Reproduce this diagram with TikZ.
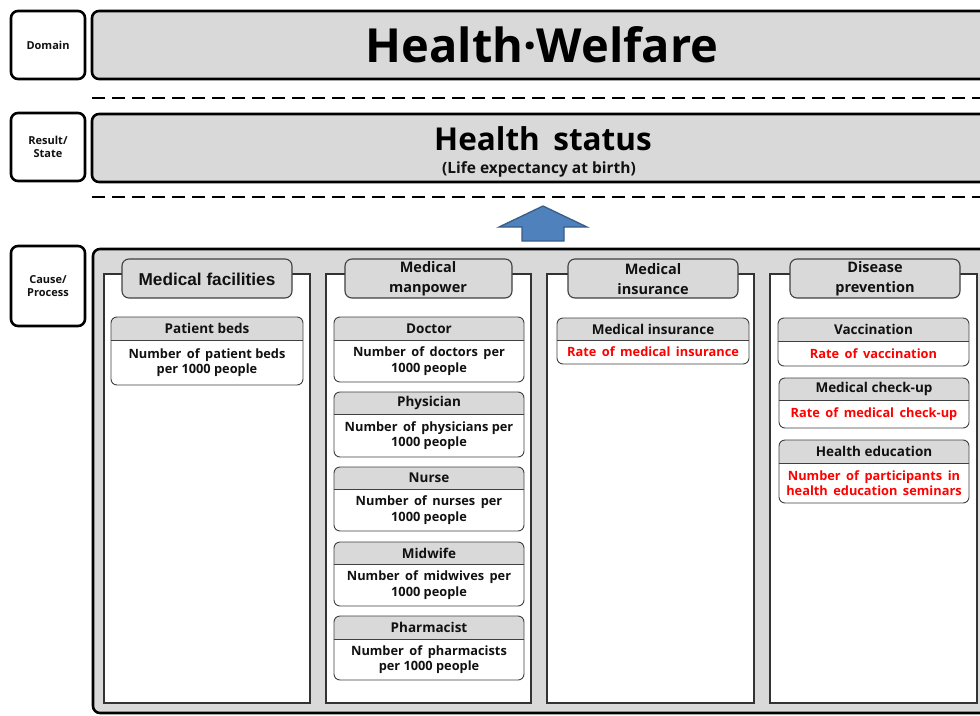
\documentclass[tikz,border=0pt]{standalone}
\usepackage{fontspec}
\setmainfont{Open Sans}
\newfontfamily\arialf{Liberation Sans}
\definecolor{boxgray}{HTML}{D9D9D9}
\definecolor{arrowfill}{HTML}{4F81BD}
\definecolor{arrowline}{HTML}{385D8A}
\definecolor{txt}{HTML}{111111}
\newcommand\mycard[9]{% x1 x2 y1 yh y2 header body color name
  \begin{scope}
    \clip[rounded corners=6] (#1,#3) rectangle (#2,#5);
    \fill[white] (#1,#3) rectangle (#2,#5);
    \fill[boxgray] (#1,#3) rectangle (#2,#4);
  \end{scope}
  \draw[cardline, rounded corners=6] (#1,#3) rectangle (#2,#5);
  \draw[cardline] (#1,#4) -- (#2,#4);
  \node[cardhead] (#9h) at ({(#1+#2)/2},{(#3+#4)/2}) {#6};
  \node[cardbody, text=#8] (#9b) at ({(#1+#2)/2},{(#4+#5)/2}) {#7};
}
\begin{document}
\begin{tikzpicture}[x=1pt,y=-1pt,
  labelbox/.style={draw=black, line width=2.6pt, rounded corners=7, fill=white},
  bigbox/.style={draw=black, line width=2.6pt, rounded corners=7, fill=boxgray},
  dashline/.style={line width=2.6pt, dash pattern=on 13pt off 7pt},
  colbox/.style={draw=black!80, line width=1.1pt, fill=white},
  tabbox/.style={draw=black!75, line width=1.1pt, rounded corners=7, fill=boxgray},
  cardline/.style={draw=black!75, line width=0.9pt},
  cardhead/.style={font=\bfseries\fontsize{13.5}{15}\selectfont, text=txt, inner sep=0},
  cardbody/.style={font=\bfseries\fontsize{12.8}{15.5}\selectfont, align=center, inner sep=0},
  labeltext/.style={font=\bfseries\fontsize{11}{13.5}\selectfont, align=center, text=txt},
  tabtext/.style={font=\bfseries\fontsize{14.5}{20}\selectfont, align=center, text=txt},
]
\useasboundingbox (0,0) rectangle (980,715);
\clip (0,0) rectangle (980,715);
% left labels
\draw[labelbox] (11,11) rectangle (85,79);
\node[labeltext] (ldomain) at (48,45) {Domain};
\draw[labelbox] (11,113) rectangle (85,181);
\node[labeltext] (lresult) at (48,147) {Result/\\State};
\draw[labelbox] (11,246) rectangle (85,326);
\node[labeltext] (lcause) at (48,286) {Cause/\\Process};
% domain box
\draw[bigbox] (92,11) rectangle (1000,79);
\node[font=\bfseries\fontsize{47}{52}\selectfont, text=black] (title) at (542,45) {Health·Welfare};
\draw[dashline] (92,98) -- (985,98);
% result box
\draw[bigbox] (92,114) rectangle (1000,182);
\node[font=\bfseries\fontsize{31.5}{34}\selectfont, text=black] (hs) at (543,139) {Health\, status};
\node[font=\bfseries\fontsize{15.5}{17}\selectfont, text=txt] (le) at (539,169) {(Life expectancy at birth)};
\draw[dashline] (92,197) -- (985,197);
% arrow
\draw[fill=arrowfill, draw=arrowline, line width=1.3pt, line join=miter]
  (543,206) -- (587,227) -- (564,227) -- (564,241) -- (522,241) -- (522,227) -- (499,227) -- cycle;
% cause box
\draw[bigbox] (93,249) rectangle (1000,713);
% columns
\draw[colbox] (104,274) rectangle (310,703);
\draw[colbox] (326,274) rectangle (531,703);
\draw[colbox] (547,274) rectangle (754,703);
\draw[colbox] (770,274) rectangle (977,703);
% tabs
\draw[tabbox] (122,259) rectangle (292,298);
\node[tabtext, font=\arialf\bfseries\fontsize{17.2}{20}\selectfont] (t1) at (207,279) {Medical facilities};
\draw[tabbox] (345,259) rectangle (512,298);
\node[tabtext] (t2) at (428,279) {Medical\\manpower};
\draw[tabbox] (568,259) rectangle (738,298);
\node[tabtext] (t3) at (653,279) {Medical\\insurance};
\draw[tabbox] (790,259) rectangle (960,298);
\node[tabtext] (t4) at (875,279) {Disease\\prevention};
% column 1
\mycard{111}{303}{317}{340}{385}{Patient beds}{Number\, of\, patient beds\\per 1000 people}{txt}{beds}
% column 2
\mycard{334}{524}{317}{340}{382}{Doctor}{Number\, of\, doctors\, per\\1000 people}{txt}{doc}
\mycard{334}{524}{392}{414}{457}{Physician}{Number\, of\, physicians per\\1000 people}{txt}{phy}
\mycard{334}{524}{467}{489}{531}{Nurse}{Number\, of\, nurses\, per\\1000 people}{txt}{nur}
\mycard{334}{524}{542}{564}{606}{Midwife}{Number\, of\, midwives\, per\\1000 people}{txt}{mid}
\mycard{334}{524}{616}{639}{680}{Pharmacist}{Number\, of\, pharmacists\\per 1000 people}{txt}{pha}
% column 3
\mycard{557}{749}{318}{340}{364}{Medical insurance}{Rate\, of\, medical\, insurance}{red}{ins}
% column 4
\mycard{778}{969}{318}{341}{366}{Vaccination}{Rate\, of\, vaccination}{red}{vac}
\mycard{779}{969}{378}{400}{428}{Medical check-up}{Rate\, of\, medical\, check-up}{red}{chk}
\mycard{779}{969}{440}{463}{503}{Health education}{Number\, of\, participants\, in\\health\, education\, seminars}{red}{edu}
\end{tikzpicture}
\end{document}
